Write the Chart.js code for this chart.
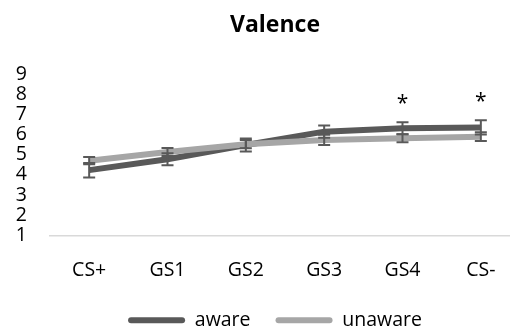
<!DOCTYPE html>
<html>
<head>
<meta charset="utf-8">
<script src="https://cdn.jsdelivr.net/npm/chart.js@4"></script>
<style>
  html, body { margin: 0; padding: 0; background: #fff; }
  #wrap { width: 510px; height: 331px; overflow: hidden; position: relative; }
  canvas { display: block; }
</style>
</head>
<body>
<div id="wrap"><canvas id="myChart" width="550" height="340"></canvas></div>
<script>
const categories = ['CS+', 'GS1', 'GS2', 'GS3', 'GS4', 'CS-'];
const aware = [4.23, 4.77, 5.48, 6.14, 6.31, 6.35];
const awareErr = [0.36, 0.3, 0.32, 0.3, 0.3, 0.35];
const unaware = [4.7, 5.13, 5.52, 5.73, 5.81, 5.89];
const unawareErr = [0.18, 0.2, 0.2, 0.25, 0.2, 0.22];
const sigMarks = ['', '', '', '', '*', '*'];
const yTicks = [1, 2, 3, 4, 5, 6, 7, 8, 9];

const font = "'Open Sans', sans-serif";

// error bars + asterisks, drawn over the lines
const errorBars = {
  id: 'errorBars',
  afterDatasetsDraw(chart) {
    const ctx = chart.ctx;
    const y = chart.scales.y;
    const errs = [awareErr, unawareErr];
    ctx.save();
    ctx.strokeStyle = '#595959';
    ctx.lineWidth = 2;
    chart.data.datasets.forEach((ds, i) => {
      const meta = chart.getDatasetMeta(i);
      meta.data.forEach((pt, j) => {
        const top = y.getPixelForValue(ds.data[j] + errs[i][j]);
        const bot = y.getPixelForValue(ds.data[j] - errs[i][j]);
        ctx.beginPath();
        ctx.moveTo(pt.x, top); ctx.lineTo(pt.x, bot);
        ctx.moveTo(pt.x - 6, top); ctx.lineTo(pt.x + 6, top);
        ctx.moveTo(pt.x - 6, bot); ctx.lineTo(pt.x + 6, bot);
        ctx.stroke();
      });
    });
    ctx.fillStyle = '#000';
    ctx.font = '21px ' + font;
    ctx.textAlign = 'center';
    ctx.textBaseline = 'alphabetic';
    const meta0 = chart.getDatasetMeta(0);
    sigMarks.forEach((m, j) => {
      if (!m) return;
      const top = y.getPixelForValue(aware[j] + awareErr[j]);
      ctx.fillText(m, meta0.data[j].x, top - 12);
    });
    ctx.restore();
  }
};

const chart = new Chart(document.getElementById('myChart'), {
  type: 'line',
  data: {
    labels: categories,
    datasets: [{
      label: 'aware',
      data: aware,
      borderColor: '#595959',
      backgroundColor: '#595959',
      borderWidth: 6,
      pointRadius: 0,
      tension: 0,
      order: 2
    }, {
      label: 'unaware',
      data: unaware,
      borderColor: '#a6a6a6',
      backgroundColor: '#a6a6a6',
      borderWidth: 6,
      pointRadius: 0,
      tension: 0,
      order: 1
    }]
  },
  options: {
    responsive: false,
    animation: false,
    layout: { padding: 0 },
    scales: {
      x: {
        offset: true,
        grid: { display: false },
        border: { display: true, color: '#d9d9d9', width: 1.5 },
        ticks: { color: '#000', font: { family: font, size: 19.5 }, padding: 15, autoSkip: false, maxRotation: 0 },
        afterFit: (s) => { s.height = 50.25; }
      },
      y: {
        min: 1,
        max: 9,
        grid: { display: false, drawTicks: false },
        border: { display: false },
        afterBuildTicks: (s) => { s.ticks = yTicks.map(v => ({ value: v })); },
        ticks: { color: '#000', font: { family: font, size: 19.5 }, padding: 23, autoSkip: false },
        afterFit: (s) => { s.width = 50; }
      },
      y2: {
        position: 'right',
        grid: { display: false, drawTicks: false },
        border: { display: false },
        ticks: { display: false },
        afterFit: (s) => { s.width = 30; }
      }
    },
    plugins: {
      title: {
        display: true,
        text: 'Valence',
        color: '#000',
        font: { family: font, size: 23, weight: 'bold' },
        padding: { top: 11.5, bottom: 34.9 }
      },
      legend: {
        position: 'bottom',
        labels: {
          color: '#000',
          font: { family: font, size: 19.5 },
          boxWidth: 57,
          boxHeight: 6,
          padding: 25,
          useBorderRadius: true,
          borderRadius: 3,
          sort: (a, b) => a.datasetIndex - b.datasetIndex,
          generateLabels: (c) => Chart.defaults.plugins.legend.labels.generateLabels(c)
            .map(l => Object.assign(l, { lineWidth: 0 }))
        }
      },
      tooltip: { enabled: false }
    }
  },
  plugins: [errorBars]
});
</script>
</body>
</html>
